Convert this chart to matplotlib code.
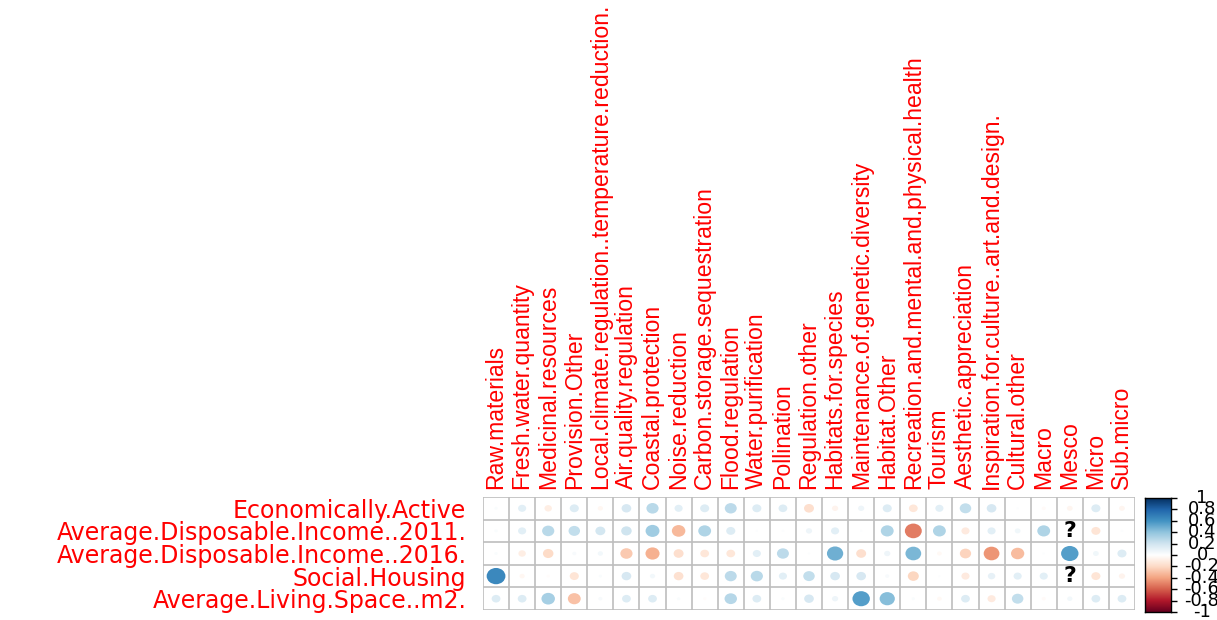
import numpy as np
import matplotlib.pyplot as plt
from matplotlib.colors import LinearSegmentedColormap
from matplotlib.patches import Ellipse

rowNames = ['Economically.Active', 'Average.Disposable.Income..2011.',
            'Average.Disposable.Income..2016.', 'Social.Housing',
            'Average.Living.Space..m2.']
colNames = ['Raw.materials', 'Fresh.water.quantity', 'Medicinal.resources',
            'Provision.Other', 'Local.climate.regulation..temperature.reduction.',
            'Air.quality.regulation', 'Coastal.protection', 'Noise.reduction',
            'Carbon.storage.sequestration', 'Flood.regulation', 'Water.purification',
            'Pollination', 'Regulation.other', 'Habitats.for.species',
            'Maintenance.of.genetic.diversity', 'Habitat.Other',
            'Recreation.and.mental.and.physical.health', 'Tourism',
            'Aesthetic.appreciation', 'Inspiration.for.culture..art.and.design.',
            'Cultural.other', 'Macro', 'Mesco', 'Micro', 'Sub.micro']

# correlations (nan = "?")
econActive = [0.02, 0.12, -0.10, 0.15, -0.05, 0.17, 0.27, 0.12, 0.15, 0.26, 0.15, 0.14,
              -0.18, -0.07, 0.07, 0.15, -0.14, 0.12, 0.24, 0.17, 0.01, -0.03, -0.06, 0.15, -0.06]
income2011 = [0.02, 0.12, 0.27, 0.24, 0.18, 0.20, 0.35, -0.33, 0.30, 0.15, 0.01, 0.01,
              0.07, 0.12, 0.01, 0.30, -0.52, 0.30, -0.12, 0.12, 0.06, 0.30, np.nan, -0.15, 0.01]
income2016 = [0.02, -0.10, -0.20, 0.03, 0.05, -0.27, -0.36, -0.18, -0.14, -0.14, 0.12, 0.26,
              0.01, 0.48, -0.18, 0.07, 0.45, -0.04, -0.23, -0.45, -0.32, 0.01, 0.55, 0.06, 0.15]
socialHousing = [0.64, -0.05, -0.02, -0.15, 0.02, 0.17, 0.05, -0.17, -0.14, 0.26, 0.27, 0.12,
                 0.24, 0.17, 0.17, 0.03, -0.22, 0.01, -0.12, 0.10, 0.12, 0.12, np.nan, -0.15, -0.07]
livingSpace = [0.14, 0.14, 0.33, -0.30, 0.03, 0.14, 0.14, 0.02, -0.02, 0.28, 0.14, 0.02,
               0.17, 0.07, 0.55, 0.42, 0.02, -0.04, 0.14, -0.12, 0.24, -0.03, 0.05, 0.14, 0.14]

legendTicks = [1, 0.8, 0.6, 0.4, 0.2, 0, -0.2, -0.4, -0.6, -0.8, -1]

corrColors = ['#67001F', '#B2182B', '#D6604D', '#F4A582', '#FDDBC7', '#FFFFFF',
              '#D1E5F0', '#92C5DE', '#4393C3', '#2166AC', '#053061']
cmap = LinearSegmentedColormap.from_list('corr', corrColors, N=200)

W, H = 1217, 620
fig = plt.figure(figsize=(W / 100, H / 100), dpi=100)
plt.rcParams['font.family'] = ['Liberation Sans', 'DejaVu Sans']

gl, gr, gt, gb = 483, 1135, 497, 610
ax = fig.add_axes([gl / W, 1 - gb / H, (gr - gl) / W, (gb - gt) / H])

data = np.array([econActive, income2011, income2016, socialHousing, livingSpace])
nRow, nCol = data.shape

for i in range(nRow):
    for j in range(nCol):
        r = data[i, j]
        yc = nRow - 1 - i + 0.5
        xc = j + 0.5
        if np.isnan(r):
            ax.text(xc, yc, '?', ha='center', va='center', fontsize=16,
                    fontweight='bold', color='black', family='DejaVu Sans')
            continue
        d = 0.9 * np.sqrt(abs(r))
        ax.add_patch(Ellipse((xc, yc), d, d, facecolor=cmap((r + 1) / 2),
                             edgecolor='none'))

for k in range(nCol + 1):
    ax.plot([k, k], [0, nRow], color='#BEBEBE', lw=1.2, zorder=0)
for k in range(nRow + 1):
    ax.plot([0, nCol], [k, k], color='#BEBEBE', lw=1.2, zorder=0)

ax.set_xlim(0, nCol)
ax.set_ylim(0, nRow)
for s in ax.spines.values():
    s.set_visible(False)
ax.xaxis.tick_top()
ax.set_xticks(np.arange(nCol) + 0.5)
ax.set_xticklabels(colNames, rotation=90, color='red', fontsize=16.6)
ax.set_yticks(np.arange(nRow) + 0.5)
ax.set_yticklabels(rowNames[::-1], color='red', fontsize=17, family='DejaVu Sans')
ax.tick_params(length=0, pad=6)
ax.tick_params(axis='y', pad=12)

# colour legend
cl, cr, ct, cb = 1145, 1171, 498, 612
cax = fig.add_axes([cl / W, 1 - cb / H, (cr - cl) / W, (cb - ct) / H])
grad = np.linspace(-1, 1, 200).reshape(-1, 1)
cax.imshow(grad, cmap=cmap, aspect='auto', origin='lower', extent=[0, 1, -1, 1])
cax.set_xticks([])
cax.yaxis.tick_right()
cax.set_yticks(legendTicks)
cax.set_yticklabels([])
cax.tick_params(axis='y', length=4, width=1)
for s in cax.spines.values():
    s.set_color('black')
    s.set_linewidth(1)
for t in legendTicks:
    yfig = 1 - (cb - (t + 1) / 2 * (cb - ct)) / H
    fig.text(1202 / W, yfig, '{:g}'.format(t), ha='center', va='center',
             fontsize=13, family='DejaVu Sans', color='black')

fig.savefig('out.png', dpi=100)
